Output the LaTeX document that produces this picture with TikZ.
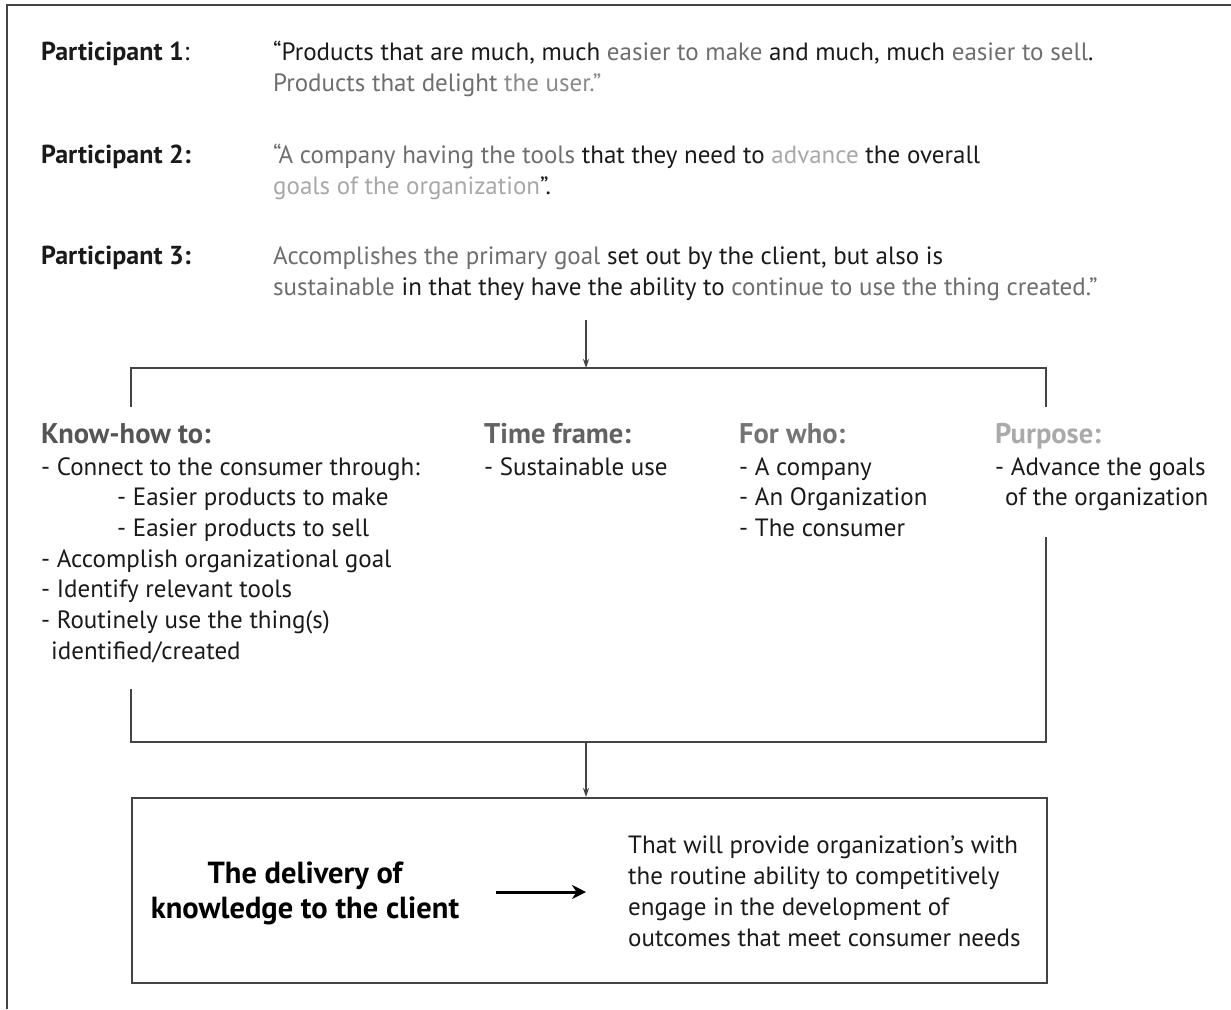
\documentclass[tikz,border=0pt]{standalone}
\usepackage{fontspec}
\setmainfont{PT Sans}
\usetikzlibrary{arrows.meta}
\definecolor{inkA}{HTML}{1A1A1A}
\definecolor{greyQ}{HTML}{6E6E6E}
\definecolor{greyM}{HTML}{8A8A8A}
\definecolor{greyL}{HTML}{A8A8A8}
\definecolor{headA}{HTML}{555555}
\definecolor{headB}{HTML}{626262}
\definecolor{headC}{HTML}{757575}
\definecolor{headD}{HTML}{AAAAAA}
\definecolor{rule}{HTML}{444444}
\tikzset{
  txt/.style={anchor=base west, inner sep=0pt, text=inkA, font=\fontsize{25}{30}\selectfont},
  lbl/.style={txt, font=\fontsize{26}{30}\selectfont\bfseries},
  head/.style={txt, font=\fontsize{28.5}{32}\selectfont\bfseries},
  boldmid/.style={anchor=base, inner sep=0pt, text=black, font=\fontsize{30.5}{34}\selectfont\bfseries},
  link/.style={draw=rule, line width=1.3pt},
  thinarrow/.style={link, -{Stealth[length=9pt,width=6pt]}},
  boldarrow/.style={draw=black, line width=3pt, -{Stealth[length=14pt,width=14pt]}}
}
\begin{document}
\begin{tikzpicture}[x=1pt,y=-1pt]
\useasboundingbox (0,0) rectangle (1231,1009);
\fill[white] (0,0) rectangle (1231,1009);
% page frame (open to the right and bottom)
\draw[draw=rule, line width=1.5pt] (7,1009) -- (7,5) -- (1231,5);

% participant quotes
\node[lbl] (l1) at (41,60) {Participant 1\mdseries:};
\node[txt] (q1a) at (273,60) {“Products that are much, much \textcolor{greyQ}{easier to make} and much, much \textcolor{greyQ}{easier to sell}.};
\node[txt,text=greyQ] (q1b) at (273,91) {Products that delight \textcolor{greyM}{the user.”}};

\node[lbl] (l2) at (41,163) {Participant 2:};
\node[txt] (q2a) at (273,163) {\textcolor{greyQ}{“A company having the tools} that they need to \textcolor{greyL}{advance} the overall};
\node[txt] (q2b) at (273,194) {\textcolor{greyL}{goals of the organization}”.};

\node[lbl] (l3) at (41,264) {Participant 3:};
\node[txt] (q3a) at (273,264) {\textcolor{greyQ}{Accomplishes the primary goal} set out by the client, but also is};
\node[txt] (q3b) at (273,295) {\textcolor{greyQ}{sustainable} in that they have the ability to \textcolor{greyQ}{continue to use the thing created.”}};

% split into the four themes
\coordinate (top) at (586,320);
\coordinate (fork) at (586,368);
\coordinate (forkL) at (131,368);
\coordinate (forkR) at (1046,368);
\coordinate (dropL) at (131,407);
\coordinate (dropR) at (1046,407);
\draw[thinarrow] (top) -- (fork);
\draw[link] (dropL) -- (forkL) -- (forkR) -- (dropR);

% theme headings
\node[head,text=headA] (h1) at (41,443) {Know-how to:};
\node[head,text=headB] (h2) at (484,443) {Time frame:};
\node[head,text=headC] (h3) at (739,443) {For who:};
\node[head,text=headD] (h4) at (995,443) {Purpose:};

% know-how items
\node[txt] (k1) at (41,475) {- Connect to the consumer through:};
\node[txt] (k2) at (117,505) {- Easier products to make};
\node[txt] (k3) at (117,536) {- Easier products to sell};
\node[txt] (k4) at (41,567) {- Accomplish organizational goal};
\node[txt] (k5) at (41,597) {- Identify relevant tools};
\node[txt] (k6) at (41,628) {- Routinely use the thing(s)};
\node[txt] (k7) at (51,659) {identified/created};

% time frame, audience, purpose items
\node[txt] (t1) at (484,475) {- Sustainable use};
\node[txt] (w1) at (739,475) {- A company};
\node[txt] (w2) at (739,505) {- An Organization};
\node[txt] (w3) at (739,536) {- The consumer};
\node[txt] (p1) at (995,475) {- Advance the goals};
\node[txt] (p2) at (1005,505) {of the organization};

% merge back together
\coordinate (riseL) at (131,689);
\coordinate (riseR) at (1046,537);
\coordinate (joinL) at (131,742);
\coordinate (joinR) at (1046,742);
\coordinate (join) at (586,742);
\draw[link] (riseL) -- (joinL) -- (joinR) -- (riseR);

% outcome box
\node[draw=rule, line width=1.5pt, minimum width=915pt, minimum height=185pt, inner sep=0pt, anchor=north west] (box) at (131,797) {};
\draw[thinarrow] (join) -- (box.north -| join);

\node[boldmid] (d1) at (305,883) {The delivery of};
\node[boldmid] (d2) at (305,918) {knowledge to the client};
\coordinate (arrS) at (496,892);
\coordinate (arrE) at (586,892);
\draw[boldarrow] (arrS) -- (arrE);

\node[txt] (o1) at (628,853) {That will provide organization’s with};
\node[txt] (o2) at (628,884) {the routine ability to competitively};
\node[txt] (o3) at (628,915) {engage in the development of};
\node[txt] (o4) at (628,946) {outcomes that meet consumer needs};
\end{tikzpicture}
\end{document}
